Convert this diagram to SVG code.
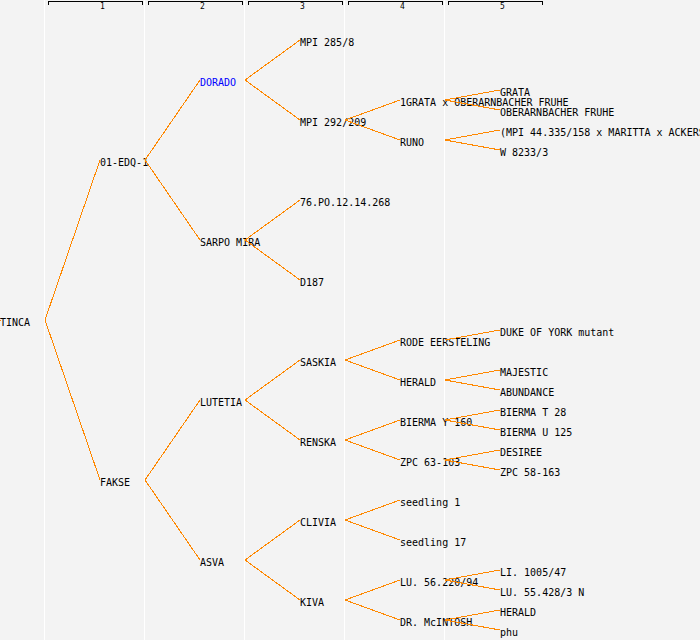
<svg xmlns="http://www.w3.org/2000/svg" width="700" height="640" viewBox="0 0 700 640">
<style>
.bg{fill:#f3f3f3}
.sep{stroke:#ffffff;stroke-width:1}
.hdr{fill:none;stroke:#000;stroke-width:1;shape-rendering:crispEdges}
.num{font-family:"DejaVu Sans Mono","Liberation Mono",monospace;font-size:8px;fill:#000}
text.n{font-family:"DejaVu Sans Mono","Liberation Mono",monospace;font-size:10px;fill:#000}
text.blue{fill:#0000ff}
#edges line{stroke:#ff8800;stroke-width:1;shape-rendering:crispEdges}
</style>
<rect class="bg" x="0" y="0" width="700" height="640"/>
<g id="grid">
<line class="sep" x1="44.5" y1="0" x2="44.5" y2="640"/>
<line class="sep" x1="144.5" y1="0" x2="144.5" y2="640"/>
<line class="sep" x1="244.5" y1="0" x2="244.5" y2="640"/>
<line class="sep" x1="344.5" y1="0" x2="344.5" y2="640"/>
<line class="sep" x1="444.5" y1="0" x2="444.5" y2="640"/>
</g>
<g id="header">
<path class="hdr" d="M48.5,5 V1.5 H142.5 V5"/>
<path class="hdr" d="M148.5,5 V1.5 H242.5 V5"/>
<path class="hdr" d="M248.5,5 V1.5 H342.5 V5"/>
<path class="hdr" d="M348.5,5 V1.5 H442.5 V5"/>
<path class="hdr" d="M448.5,5 V1.5 H542.5 V5"/>
<text class="num" x="100" y="9">1</text>
<text class="num" x="200" y="9">2</text>
<text class="num" x="300" y="9">3</text>
<text class="num" x="400" y="9">4</text>
<text class="num" x="500" y="9">5</text>
</g>
<g id="nodes">
<g id="n-tinca"><text class="n" x="0" y="326">TINCA</text></g>
<g id="n-01edq1"><text class="n" x="100" y="166">01-EDQ-1</text></g>
<g id="n-fakse"><text class="n" x="100" y="486">FAKSE</text></g>
<g id="n-dorado"><text class="n blue" x="200" y="86">DORADO</text></g>
<g id="n-sarpomira"><text class="n" x="200" y="246">SARPO MIRA</text></g>
<g id="n-lutetia"><text class="n" x="200" y="406">LUTETIA</text></g>
<g id="n-asva"><text class="n" x="200" y="566">ASVA</text></g>
<g id="n-mpi2858"><text class="n" x="300" y="46">MPI 285/8</text></g>
<g id="n-mpi292209"><text class="n" x="300" y="126">MPI 292/209</text></g>
<g id="n-76po"><text class="n" x="300" y="206">76.PO.12.14.268</text></g>
<g id="n-d187"><text class="n" x="300" y="286">D187</text></g>
<g id="n-saskia"><text class="n" x="300" y="366">SASKIA</text></g>
<g id="n-renska"><text class="n" x="300" y="446">RENSKA</text></g>
<g id="n-clivia"><text class="n" x="300" y="526">CLIVIA</text></g>
<g id="n-kiva"><text class="n" x="300" y="606">KIVA</text></g>
<g id="n-1grata"><text class="n" x="400" y="106">1GRATA x OBERARNBACHER FRUHE</text></g>
<g id="n-runo"><text class="n" x="400" y="146">RUNO</text></g>
<g id="n-rode"><text class="n" x="400" y="346">RODE EERSTELING</text></g>
<g id="n-herald4"><text class="n" x="400" y="386">HERALD</text></g>
<g id="n-biermay"><text class="n" x="400" y="426">BIERMA Y 160</text></g>
<g id="n-zpc63"><text class="n" x="400" y="466">ZPC 63-103</text></g>
<g id="n-seedling1"><text class="n" x="400" y="506">seedling 1</text></g>
<g id="n-seedling17"><text class="n" x="400" y="546">seedling 17</text></g>
<g id="n-lu56"><text class="n" x="400" y="586">LU. 56.220/94</text></g>
<g id="n-mcintosh"><text class="n" x="400" y="626">DR. McINTOSH</text></g>
<g id="n-grata"><text class="n" x="500" y="96">GRATA</text></g>
<g id="n-oberarn"><text class="n" x="500" y="116">OBERARNBACHER FRUHE</text></g>
<g id="n-mpi44"><text class="n" x="500" y="136">(MPI 44.335/158 x MARITTA x ACKERS</text></g>
<g id="n-w8233"><text class="n" x="500" y="156">W 8233/3</text></g>
<g id="n-duke"><text class="n" x="500" y="336">DUKE OF YORK mutant</text></g>
<g id="n-majestic"><text class="n" x="500" y="376">MAJESTIC</text></g>
<g id="n-abundance"><text class="n" x="500" y="396">ABUNDANCE</text></g>
<g id="n-biermat"><text class="n" x="500" y="416">BIERMA T 28</text></g>
<g id="n-biermau"><text class="n" x="500" y="436">BIERMA U 125</text></g>
<g id="n-desiree"><text class="n" x="500" y="456">DESIREE</text></g>
<g id="n-zpc58"><text class="n" x="500" y="476">ZPC 58-163</text></g>
<g id="n-li1005"><text class="n" x="500" y="576">LI. 1005/47</text></g>
<g id="n-lu55"><text class="n" x="500" y="596">LU. 55.428/3 N</text></g>
<g id="n-herald5"><text class="n" x="500" y="616">HERALD</text></g>
<g id="n-phu"><text class="n" x="500" y="636">phu</text></g>
</g>
<g id="edges">
<line x1="-2" y1="320.5" x2="1" y2="320.5"/>
<line x1="45" y1="320" x2="100" y2="160"/>
<line x1="45" y1="320" x2="100" y2="480"/>
<line x1="145" y1="160" x2="200" y2="80"/>
<line x1="145" y1="160" x2="200" y2="240"/>
<line x1="145" y1="480" x2="200" y2="400"/>
<line x1="145" y1="480" x2="200" y2="560"/>
<line x1="245" y1="80" x2="300" y2="40"/>
<line x1="245" y1="80" x2="300" y2="120"/>
<line x1="245" y1="240" x2="300" y2="200"/>
<line x1="245" y1="240" x2="300" y2="280"/>
<line x1="245" y1="400" x2="300" y2="360"/>
<line x1="245" y1="400" x2="300" y2="440"/>
<line x1="245" y1="560" x2="300" y2="520"/>
<line x1="245" y1="560" x2="300" y2="600"/>
<line x1="345" y1="120" x2="400" y2="100"/>
<line x1="345" y1="120" x2="400" y2="140"/>
<line x1="345" y1="360" x2="400" y2="340"/>
<line x1="345" y1="360" x2="400" y2="380"/>
<line x1="345" y1="440" x2="400" y2="420"/>
<line x1="345" y1="440" x2="400" y2="460"/>
<line x1="345" y1="520" x2="400" y2="500"/>
<line x1="345" y1="520" x2="400" y2="540"/>
<line x1="345" y1="600" x2="400" y2="580"/>
<line x1="345" y1="600" x2="400" y2="620"/>
<line x1="445" y1="100" x2="500" y2="90"/>
<line x1="445" y1="100" x2="500" y2="110"/>
<line x1="445" y1="140" x2="500" y2="130"/>
<line x1="445" y1="140" x2="500" y2="150"/>
<line x1="445" y1="340" x2="500" y2="330"/>
<line x1="445" y1="380" x2="500" y2="370"/>
<line x1="445" y1="380" x2="500" y2="390"/>
<line x1="445" y1="420" x2="500" y2="410"/>
<line x1="445" y1="420" x2="500" y2="430"/>
<line x1="445" y1="460" x2="500" y2="450"/>
<line x1="445" y1="460" x2="500" y2="470"/>
<line x1="445" y1="580" x2="500" y2="570"/>
<line x1="445" y1="580" x2="500" y2="590"/>
<line x1="445" y1="620" x2="500" y2="610"/>
<line x1="445" y1="620" x2="500" y2="630"/>
</g>
</svg>
